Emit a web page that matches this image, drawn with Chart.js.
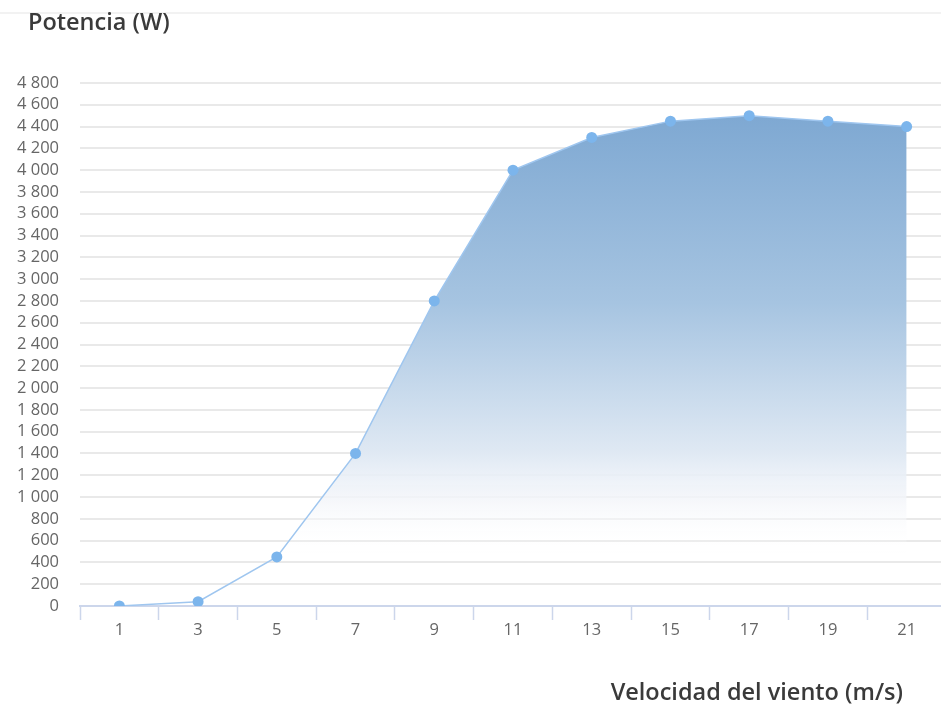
<!DOCTYPE html>
<html>
<head>
<meta charset="utf-8">
<script src="https://cdn.jsdelivr.net/npm/chart.js@4"></script>
<style>
  html, body { margin: 0; padding: 0; background: #fff; overflow: hidden; }
  #wrap { position: relative; width: 941px; height: 706px; overflow: hidden; }
  #topline { position: absolute; left: 0; top: 12px; width: 941px; height: 2px; background: #f2f2f2; }
  canvas { position: absolute; left: 0; top: 0; }
  .ttl { position: absolute; font-family: 'Open Sans', sans-serif; font-weight: 600; font-size: 23.5px; line-height: 24px; color: #3a3a3a; white-space: nowrap; }
  #ytitle { left: 28px; top: 9px; }
  #xtitle { right: 38px; top: 679px; }
</style>
</head>
<body>
<div id="wrap">
  <div id="topline"></div>
  <canvas id="c" width="960" height="706"></canvas>
  <div class="ttl" id="ytitle">Potencia (W)</div>
  <div class="ttl" id="xtitle">Velocidad del viento (m/s)</div>
</div>
<script>
// Wind speed (m/s) and turbine power output (W)
const windSpeeds = ['1', '3', '5', '7', '9', '11', '13', '15', '17', '19', '21'];
const powerValues = [0, 40, 450, 1400, 2800, 4000, 4300, 4450, 4500, 4450, 4400];
const yMin = 0;
const yMax = 4800;
const yStep = 200;

// thousands separated by a space, e.g. "4 800"
function formatThousands(v) {
  return String(v).replace(/\B(?=(\d{3})+(?!\d))/g, ' ');
}

// vertical fade for the area under the curve
function areaGradient(ctx) {
  const chart = ctx.chart;
  const area = chart.chartArea;
  if (!area) return 'rgba(126,168,210,0.6)';
  const g = chart.ctx.createLinearGradient(0, area.top, 0, area.bottom);
  g.addColorStop(0.00, 'rgba(120,164,208,1)');
  g.addColorStop(0.06, 'rgba(126,168,210,1)');
  g.addColorStop(0.42, 'rgba(166,196,225,1)');
  g.addColorStop(0.70, 'rgba(222,232,243,1)');
  g.addColorStop(0.80, 'rgba(244,246,250,0.8)');
  g.addColorStop(0.90, 'rgba(255,255,255,0)');
  g.addColorStop(1.00, 'rgba(255,255,255,0)');
  return g;
}

const tickFont = { family: "'Open Sans', sans-serif", size: 16.5 };

new Chart(document.getElementById('c'), {
  type: 'line',
  data: {
    labels: windSpeeds,
    datasets: [{
      data: powerValues,
      borderColor: '#9fc6ef',
      borderWidth: 1.5,
      backgroundColor: areaGradient,
      fill: 'origin',
      tension: 0,
      pointRadius: 5.5,
      pointHoverRadius: 5.5,
      pointBackgroundColor: '#7cb5ec',
      pointBorderColor: '#7cb5ec',
      pointBorderWidth: 0
    }]
  },
  options: {
    responsive: false,
    animation: false,
    devicePixelRatio: 1,
    layout: { padding: { top: 83, right: 14, left: 0, bottom: 0 } },
    plugins: {
      legend: { display: false },
      tooltip: { enabled: false }
    },
    scales: {
      x: {
        offset: true,
        grid: {
          offset: true,
          drawOnChartArea: false,
          drawTicks: true,
          tickLength: 14,
          tickColor: '#ccd6eb',
          tickWidth: 1.5
        },
        border: { display: true, color: '#ccd6eb', width: 2 },
        ticks: { color: '#666666', font: tickFont, padding: 0, maxRotation: 0, autoSkip: false },
        afterFit: (s) => { s.height = 100; }
      },
      y: {
        min: yMin,
        max: yMax,
        ticks: {
          stepSize: yStep,
          autoSkip: false,
          color: '#666666',
          font: tickFont,
          padding: 21,
          callback: (v) => formatThousands(v)
        },
        grid: { color: '#e9e9e9', lineWidth: 2, drawTicks: false },
        border: { display: false },
        afterFit: (s) => { s.width = 80; }
      }
    }
  }
});
</script>
</body>
</html>
